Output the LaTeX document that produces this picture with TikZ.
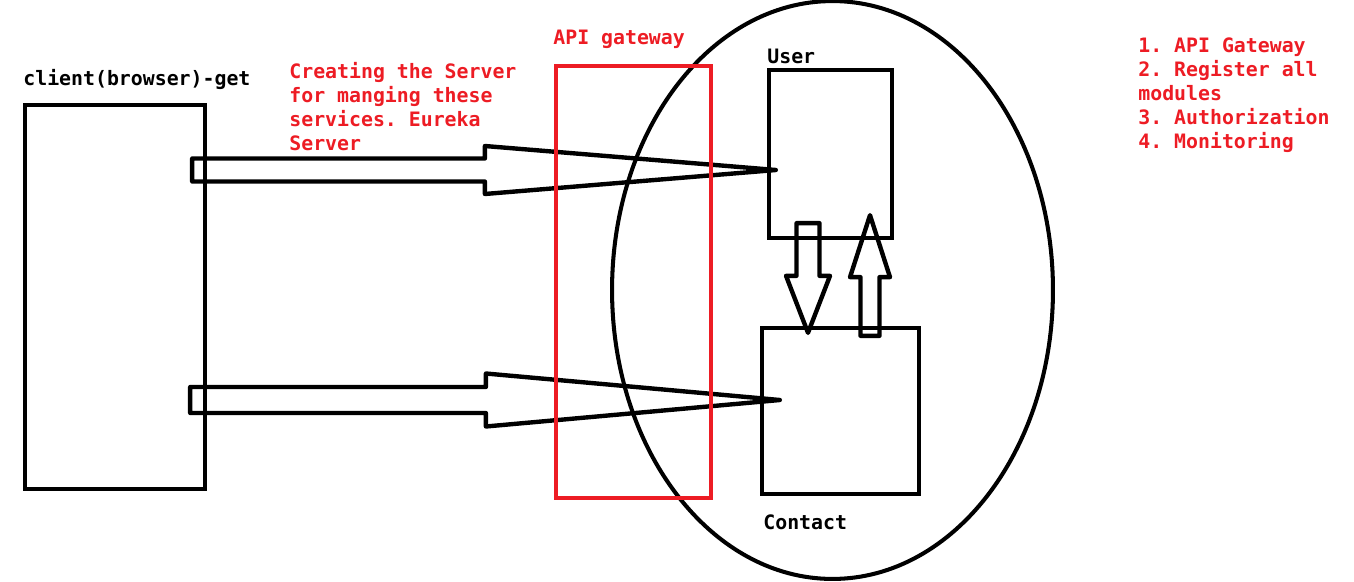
\documentclass[tikz,border=0pt]{standalone}
\usepackage{fontspec}
\setmonofont{DejaVu Sans Mono}
\usepackage{xcolor}
\usepackage{tikz}
\usetikzlibrary{calc,positioning,shapes.geometric}
\definecolor{paintred}{RGB}{237,28,36}
\newcommand{\pxpt}{0.56905}
% hollow block arrow: tail, tip, shaft half width, head half width, head length (px)
\newcommand{\fatarrow}[5]{%
  \draw[blk] let \p1=(#1), \p2=(#2), \n1={veclen(\x2-\x1,\y2-\y1)},
      \n2={(\x2-\x1)/\n1}, \n3={(\y2-\y1)/\n1},
      \n4={#3*\pxpt}, \n5={#4*\pxpt}, \n6={#5*\pxpt} in
    ({\x1-\n3*\n4},{\y1+\n2*\n4})
    -- ({\x2-\n2*\n6-\n3*\n4},{\y2-\n3*\n6+\n2*\n4})
    -- ({\x2-\n2*\n6-\n3*\n5},{\y2-\n3*\n6+\n2*\n5})
    -- (\p2)
    -- ({\x2-\n2*\n6+\n3*\n5},{\y2-\n3*\n6-\n2*\n5})
    -- ({\x2-\n2*\n6+\n3*\n4},{\y2-\n3*\n6-\n2*\n4})
    -- ({\x1+\n3*\n4},{\y1-\n2*\n4}) -- cycle;}

\begin{document}
\begin{tikzpicture}[
    x=0.02cm, y=-0.02cm,
    box/.style={rectangle, draw, line width=2.5pt, inner sep=0pt},
    blk/.style={draw, line width=2.5pt, line join=round},
    lbl/.style={font=\ttfamily\bfseries\fontsize{11.3}{13.6}\selectfont, inner sep=0pt, align=left},
    note/.style={lbl, text=paintred}
    ]
    \useasboundingbox (0,0) rectangle (1354,581);

    \node (client) [box, minimum width=3.6cm, minimum height=7.68cm] at (115,297) {};
    \node (ring) [ellipse, draw, line width=2.3pt, inner sep=0pt, minimum width=8.82cm, minimum height=11.56cm] at (832.5,290) {};
    \node (user) [box, minimum width=2.46cm, minimum height=3.36cm] at (830.5,154) {};
    \node (contact) [box, minimum width=3.14cm, minimum height=3.32cm] at (840.5,411) {};

    \node (clientlbl) [lbl, anchor=base west] at (23,86) {client(browser)-get};
    \node (eureka) [note, anchor=base west] at (289,150) {Creating the Server\\for manging these\\services. Eureka\\Server};
    \node (gwlbl) [note, anchor=base west] at (553,45) {API gateway};
    \node (userlbl) [lbl, anchor=base west] at (767,64) {User};
    \node (contactlbl) [lbl, anchor=base west] at (763,529) {Contact};
    \node (todo) [note, anchor=base west] at (1138,148) {1. API Gateway\\2. Register all\\modules\\3. Authorization\\4. Monitoring};

    % client -> services
    \coordinate (utip) at ($(user.west)+(9,16)$);
    \coordinate (utail) at ($(client.east |- utip)+(-15,0)$);
    \coordinate (ctip) at ($(contact.west)+(20,-11)$);
    \coordinate (ctail) at ($(client.east |- ctip)+(-17,0)$);
    \fatarrow{utail}{utip}{11.5}{24}{291}
    \fatarrow{ctail}{ctip}{13}{26.5}{294}

    % user <-> contact
    \coordinate (dtail) at ($(user.south)+(-22.5,-17)$);
    \coordinate (dtip) at ($(contact.north)+(-32.5,7)$);
    \coordinate (rtail) at ($(contact.north)+(29.5,10)$);
    \coordinate (rtip) at ($(user.south)+(39.5,-25)$);
    \fatarrow{dtail}{dtip}{11.5}{22}{57}
    \fatarrow{rtail}{rtip}{9.5}{20}{62}

    \node (gateway) [box, draw=paintred, minimum width=3.1cm, minimum height=8.64cm] at (633.5,282) {};
\end{tikzpicture}
\end{document}
